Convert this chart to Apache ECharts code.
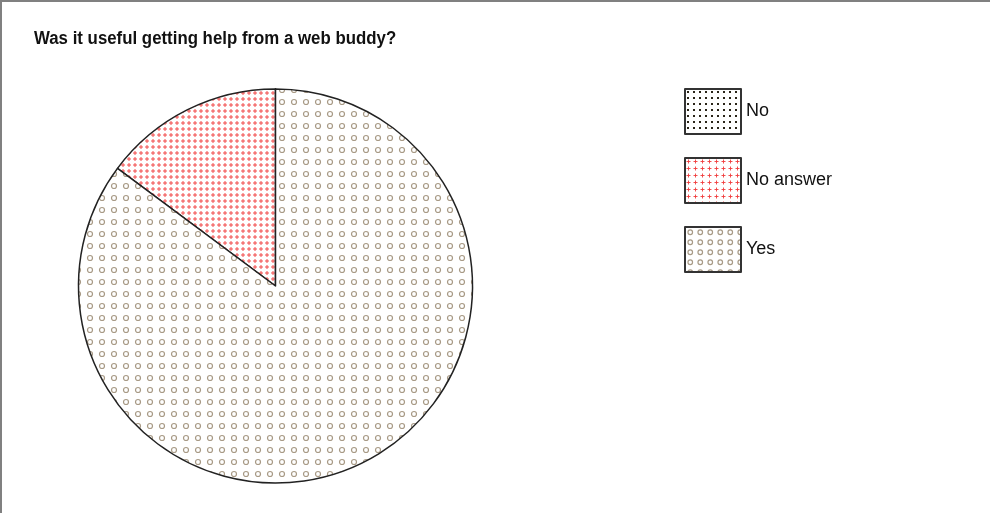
<!DOCTYPE html>
<html>
<head>
<meta charset="utf-8">
<script src="https://cdn.jsdelivr.net/npm/echarts@6/dist/echarts.min.js"></script>
<style>
  html, body { margin: 0; padding: 0; background: #fff; }
  #chart { width: 990px; height: 513px; }
</style>
</head>
<body>
<div id="chart"></div>
<script>
// Survey answers
const titleText = 'Was it useful getting help from a web buddy?';
const categories = ['No', 'No answer', 'Yes'];
const counts = [0, 4, 23];

// Fill patterns drawn on small canvases
function tile(w, h, draw) {
  const c = document.createElement('canvas');
  c.width = w; c.height = h;
  const ctx = c.getContext('2d');
  ctx.fillStyle = '#ffffff';
  ctx.fillRect(0, 0, w, h);
  draw(ctx);
  return c;
}
function dots(step) {
  return tile(step, step, ctx => {
    ctx.fillStyle = '#2a2418';
    ctx.fillRect(2, 2, 2, 2);
  });
}
function pluses(step) {
  return tile(step, step, ctx => {
    const m = step / 2;
    ctx.strokeStyle = '#f03c3c';
    ctx.lineWidth = 0.9;
    ctx.beginPath();
    ctx.moveTo(m - 2, m); ctx.lineTo(m + 2, m);
    ctx.moveTo(m, m - 2); ctx.lineTo(m, m + 2);
    ctx.stroke();
  });
}
function rings(step, r) {
  return tile(step, step, ctx => {
    ctx.strokeStyle = '#a89a86';
    ctx.lineWidth = 1.2;
    ctx.beginPath();
    ctx.arc(step / 2, step / 2, r, 0, Math.PI * 2);
    ctx.stroke();
  });
}
const pieFills = [dots(6), pluses(6), rings(12, 2.5)];
const legendFills = [dots(6), pluses(7), rings(10.5, 2.3)];

const chart = echarts.init(document.getElementById('chart'), null, { renderer: 'canvas' });
chart.setOption({
  animation: false,
  backgroundColor: '#ffffff',
  legend: {
    orient: 'vertical',
    left: 684,
    top: 88,
    padding: 0,
    itemWidth: 56,
    itemHeight: 45,
    itemGap: 22,
    icon: 'rect',
    selectedMode: false,
    textStyle: { fontFamily: 'Liberation Sans', fontSize: 18, color: '#111' },
    data: categories.map((name, i) => ({
      name,
      itemStyle: {
        color: { image: legendFills[i], repeat: 'repeat' },
        borderColor: '#333',
        borderWidth: 2
      }
    }))
  },
  graphic: [
    { type: 'line', shape: { x1: 0, y1: 1, x2: 990, y2: 1 }, style: { stroke: '#808080', lineWidth: 2 } },
    { type: 'line', shape: { x1: 1, y1: 0, x2: 1, y2: 513 }, style: { stroke: '#808080', lineWidth: 2 } },
    {
      type: 'text',
      x: 34,
      y: 30,
      scaleX: 0.935,
      style: {
        text: titleText,
        font: 'bold 18px "Liberation Sans"',
        fill: '#111',
        verticalAlign: 'top'
      }
    }
  ],
  series: [{
    type: 'pie',
    center: [275.5, 286],
    radius: 197,
    startAngle: 90,
    clockwise: false,
    label: { show: false },
    labelLine: { show: false },
    emphasis: { disabled: true },
    silent: true,
    itemStyle: { borderColor: '#222', borderWidth: 1.5 },
    data: categories.map((name, i) => ({
      name,
      value: counts[i],
      itemStyle: { color: { image: pieFills[i], repeat: 'repeat' } }
    }))
  }]
});
</script>
</body>
</html>
